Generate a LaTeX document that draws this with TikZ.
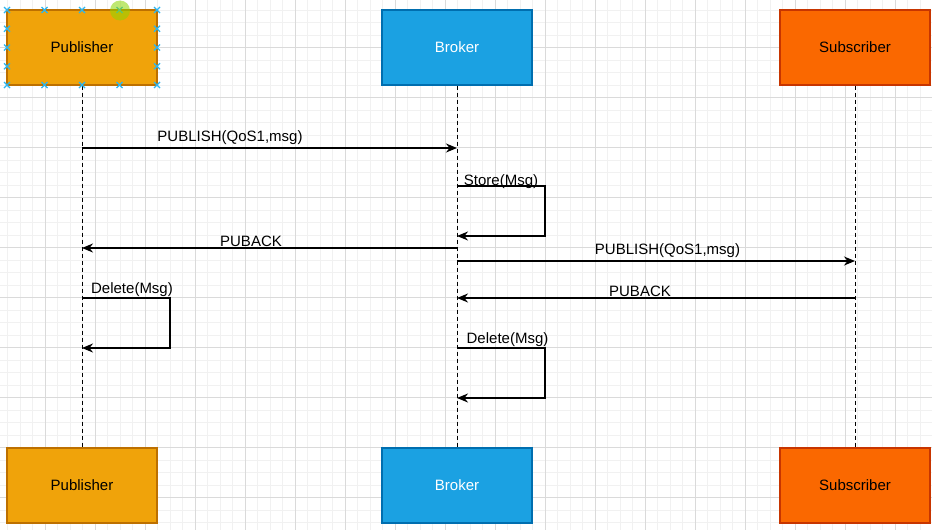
\documentclass[tikz,border=0pt]{standalone}
\usepackage{fontspec}
\setmainfont{Liberation Sans}
\usetikzlibrary{arrows.meta}

\definecolor{pubfill}{HTML}{F0A30A}
\definecolor{publine}{HTML}{BD7000}
\definecolor{brkfill}{HTML}{1BA1E2}
\definecolor{brkline}{HTML}{006EAF}
\definecolor{subfill}{HTML}{FA6800}
\definecolor{subline}{HTML}{C73500}
\definecolor{gridminor}{HTML}{F1F1F1}
\definecolor{gridmajor}{HTML}{DADADA}
\definecolor{handle}{HTML}{29B6F2}
\definecolor{hover}{HTML}{8CD600}

\newcommand{\lbl}{\fontsize{15}{18}\selectfont}
\newcommand{\hmark}[2]{\draw[handlemark] (#1,#2) +(-3,-3) -- +(3,3) +(-3,3) -- +(3,-3);}

\begin{document}
\begin{tikzpicture}[x=1pt,y=-1pt,
    actor/.style={draw,line width=1.2pt,minimum width=150pt,minimum height=75pt,inner sep=0pt,font=\lbl},
    lifeline/.style={line width=1pt,dash pattern=on 4pt off 3pt},
    msg/.style={line width=1.2pt,-{Stealth[length=11pt,width=9pt,inset=3.5pt]}},
    msglbl/.style={font=\lbl,anchor=base,inner sep=0pt},
    handlemark/.style={handle,line width=1.1pt}]

    % canvas
    \useasboundingbox[fill=white] (0,0) rectangle (932,530);

    % draw grid
    \foreach \i in {0,...,75}
      \draw[gridminor,line width=1pt] ({-5+12.5*\i},0) -- ({-5+12.5*\i},530);
    \foreach \i in {0,...,43}
      \draw[gridminor,line width=1pt] (0,{-2.5+12.5*\i}) -- (932,{-2.5+12.5*\i});
    \foreach \i in {0,...,18}
      \draw[gridmajor,line width=1pt] ({-5+50*\i},0) -- ({-5+50*\i},530);
    \foreach \i in {0,...,10}
      \draw[gridmajor,line width=1pt] (0,{-2.5+50*\i}) -- (932,{-2.5+50*\i});

    % draw actors
    \node[actor,fill=pubfill,draw=publine] (pubtop) at (82,47.5) {Publisher};
    \node[actor,fill=brkfill,draw=brkline,text=white] (brktop) at (457,47.5) {Broker};
    \node[actor,fill=subfill,draw=subline] (subtop) at (855,47.5) {Subscriber};
    \node[actor,fill=pubfill,draw=publine] (pubbot) at (82,485.5) {Publisher};
    \node[actor,fill=brkfill,draw=brkline,text=white] (brkbot) at (457,485.5) {Broker};
    \node[actor,fill=subfill,draw=subline] (subbot) at (855,485.5) {Subscriber};

    % draw lifelines
    \draw[lifeline] (pubtop) -- (pubbot);
    \draw[lifeline] (brktop) -- (brkbot);
    \draw[lifeline] (subtop) -- (subbot);

    % message ends
    \coordinate (p1) at (pubtop |- 0,148);
    \coordinate (b1) at (brktop |- 0,148);
    \coordinate (b2) at (brktop |- 0,186);
    \coordinate (b3) at (brktop |- 0,236);
    \coordinate (b4) at (brktop |- 0,248);
    \coordinate (p4) at (pubtop |- 0,248);
    \coordinate (b5) at (brktop |- 0,261);
    \coordinate (s5) at (subtop |- 0,261);
    \coordinate (s6) at (subtop |- 0,298);
    \coordinate (b6) at (brktop |- 0,298);
    \coordinate (p7) at (pubtop |- 0,298);
    \coordinate (p8) at (pubtop |- 0,348);
    \coordinate (b9) at (brktop |- 0,348);
    \coordinate (b10) at (brktop |- 0,398);

    % draw messages
    \draw[msg] (p1) -- (b1);
    \draw[msg] (b2) -- ++(88,0) |- (b3);
    \draw[msg] (b4) -- (p4);
    \draw[msg] (b5) -- (s5);
    \draw[msg] (s6) -- (b6);
    \draw[msg] (p7) -- ++(88,0) |- (p8);
    \draw[msg] (b9) -- ++(88,0) |- (b10);

    % draw labels
    \node[msglbl] (l1) at (230,141) {PUBLISH(QoS1,msg)};
    \node[msglbl] (l2) at (501,185) {Store(Msg)};
    \node[msglbl] (l3) at (251,246.5) {PUBACK};
    \node[msglbl] (l4) at (667.5,254) {PUBLISH(QoS1,msg)};
    \node[msglbl] (l5) at (640,296.5) {PUBACK};
    \node[msglbl] (l6) at (132,293) {Delete(Msg)};
    \node[msglbl] (l7) at (507.5,343) {Delete(Msg)};

    % selection handles
    \foreach \x in {7,44.5,82,119.5,157} {
      \hmark{\x}{10}
      \hmark{\x}{85}
    }
    \foreach \y in {28.75,47.5,66.25} {
      \hmark{7}{\y}
      \hmark{157}{\y}
    }
    \fill[hover,opacity=0.55] (120,10.5) circle (10);
  \end{tikzpicture}
\end{document}
